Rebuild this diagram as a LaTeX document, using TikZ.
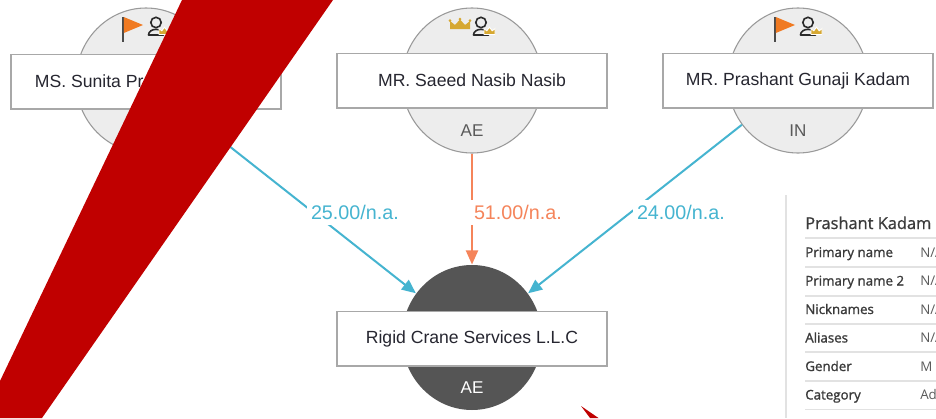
\documentclass[tikz,border=0pt]{standalone}
\usepackage{fontspec}
\setmainfont{Liberation Sans}
\newfontfamily\panelfont{Open Sans}
\newfontfamily\panelsemi[FakeBold=1.2]{Open Sans}
\newfontfamily\paneltitle[FakeBold=0.8]{Open Sans}
\usetikzlibrary{shapes.geometric,arrows.meta}

\definecolor{discfill}{HTML}{EDEDED}
\definecolor{discline}{HTML}{9A9A9A}
\definecolor{darkfill}{HTML}{555555}
\definecolor{boxline}{HTML}{A8A8A8}
\definecolor{textdark}{HTML}{262630}
\definecolor{codegray}{HTML}{5A5A5A}
\definecolor{edgeblue}{HTML}{45B4D0}
\definecolor{edgeorange}{HTML}{F5845A}
\definecolor{flagorange}{HTML}{F07A22}
\definecolor{poledark}{HTML}{4A4A4A}
\definecolor{crowngold}{HTML}{D6A832}
\definecolor{icondark}{HTML}{2A2A2A}
\definecolor{bandred}{HTML}{C00000}
\definecolor{panelrule}{HTML}{E2E2E2}
\definecolor{paneltext}{HTML}{3A3A3A}
\definecolor{panelvalue}{HTML}{5A5A5A}

\tikzset{
  % gold crown, 20 x 11 units, origin at top left
  crownicon/.pic={
    \fill[crowngold] (0,11) -- (0,3) -- (5,7) -- (10,1.5) -- (15,7) -- (20,3) -- (20,11) -- cycle;
    \fill[crowngold] (0,2.6) circle[radius=1.1pt] (10,1.2) circle[radius=1.1pt] (20,2.6) circle[radius=1.1pt];
  },
  % orange pennant on a pole
  flagicon/.pic={
    \draw[poledark, line width=1.6pt] (0,0) -- (0,25);
    \fill[flagorange] (0.8,0) -- (20,8) -- (0.8,16) -- cycle;
  },
  % outlined person with a small crown
  personicon/.pic={
    \draw[icondark, line width=1.2pt] (8,5.5) circle[radius=3.9pt];
    \draw[icondark, line width=1.2pt, line join=round] (0.5,18) .. controls (0.5,10.5) and (15.5,10.5) .. (15.5,18) -- cycle;
    \filldraw[crowngold, draw=white, line width=0.7pt] (11,17.5) -- (11,11.5) -- (13.8,13.8) -- (16.5,10.2) -- (19.2,13.8) -- (22,11.5) -- (22,17.5) -- cycle;
  },
  disc/.style={ellipse, minimum width=105pt, minimum height=108.75pt, inner sep=0pt,
    fill=discfill, draw=discline, line width=0.8pt},
  darkdisc/.style={disc, fill=darkfill, draw=none},
  namebox/.style={rectangle, minimum width=202.5pt, minimum height=41pt, inner sep=0pt,
    fill=white, draw=boxline, line width=1pt, text=textdark, font=\fontsize{13.2}{15}\selectfont},
  code/.style={text=codegray, inner sep=0pt, font=\fontsize{12.8}{14}\selectfont},
  link/.style={line width=1.5pt, -{Triangle[length=10.5pt,width=9pt]}},
  elabel/.style={pos=0.5, anchor=west, xshift=-2.25pt, yshift=-2.5pt, fill=white,
    inner xsep=3pt, inner ysep=4pt, font=\fontsize{14.8}{16}\selectfont},
  rowlab/.style={anchor=base west, inner sep=0pt, text=paneltext, font=\panelsemi\fontsize{10}{12}\selectfont},
  rowval/.style={anchor=base west, inner sep=0pt, text=panelvalue, font=\panelfont\fontsize{10}{12}\selectfont},
  rowrule/.style={panelrule, line width=0.8pt},
}

\begin{document}
\begin{tikzpicture}[x=0.75pt, y=-0.75pt]
\useasboundingbox (0,0) rectangle (936,418);
\fill[white] (0,0) rectangle (936,418);

% entity discs
\node[disc] (c1) at (146,80.5) {};
\node[disc] (c2) at (472,80.5) {};
\node[disc] (c3) at (798,80.5) {};
\node[darkdisc] (c4) at (472,337.5) {};

% name boxes
\node[namebox] (b1) at (146,81.5) {MS. Sunita Prashant Kadam};
\node[namebox] (b2) at (472,80.5) {MR. Saeed Nasib Nasib};
\node[namebox] (b3) at (798,80.5) {MR. Prashant Gunaji Kadam};
\node[namebox] (b4) at (472,338.5) {Rigid Crane Services L.L.C};

% country codes
\node[code] (k2) at (472,131) {AE};
\node[code] (k3) at (798,131) {IN};
\node[code, text=white] (k4) at (472,388) {AE};

% role icons
\pic at (123,17) {flagicon};
\pic at (148,17) {personicon};
\pic at (450,18) {crownicon};
\pic at (473,17) {personicon};
\pic at (775,17) {flagicon};
\pic at (800,17) {personicon};

% ownership links
\draw[link, edgeblue] (c1) -- node[elabel, text=edgeblue] {25.00/n.a.} (c4);
\draw[link, edgeorange] (c2) -- node[elabel, text=edgeorange] {51.00/n.a.} (c4);
\draw[link, edgeblue] (c3) -- node[elabel, text=edgeblue] {24.00/n.a.} (c4);

% detail panel, cut at the right edge
\begin{scope}
  \clip (0,0) rectangle (936,418);
  \draw[rowrule] (786,195) -- (786,418);
  \node[anchor=base west, inner sep=0pt, text=paneltext, font=\paneltitle\fontsize{12.3}{14}\selectfont]
    (ptitle) at (805,229) {Prashant Kadam};
  \draw[rowrule, line width=1.2pt] (805,238) -- (936,238);
  \node[rowlab] (l1) at (805,257) {Primary name};   \node[rowval] (v1) at (920,257) {N/A};
  \draw[rowrule] (805,267) -- (936,267);
  \node[rowlab] (l2) at (805,285.5) {Primary name 2}; \node[rowval] (v2) at (920,285.5) {N/A};
  \draw[rowrule] (805,296) -- (936,296);
  \node[rowlab] (l3) at (805,314) {Nicknames};      \node[rowval] (v3) at (920,314) {N/A};
  \draw[rowrule] (805,324) -- (936,324);
  \node[rowlab] (l4) at (805,342.5) {Aliases};      \node[rowval] (v4) at (920,342.5) {N/A};
  \draw[rowrule] (805,352) -- (936,352);
  \node[rowlab] (l5) at (805,371) {Gender};         \node[rowval] (v5) at (920,371) {M};
  \draw[rowrule] (805,381) -- (936,381);
  \node[rowlab] (l6) at (805,399.5) {Category};     \node[rowval] (v6) at (920,399.5) {Ad};
  \draw[rowrule] (805,409.5) -- (936,409.5);
\end{scope}

% red strike band and arrow tip
\fill[bandred] (182,0) -- (333,0) -- (42,418) -- (0,418) -- (0,381) -- cycle;
\fill[bandred] (581,406) -- (598.5,418) -- (590,418) -- cycle;
\end{tikzpicture}
\end{document}
